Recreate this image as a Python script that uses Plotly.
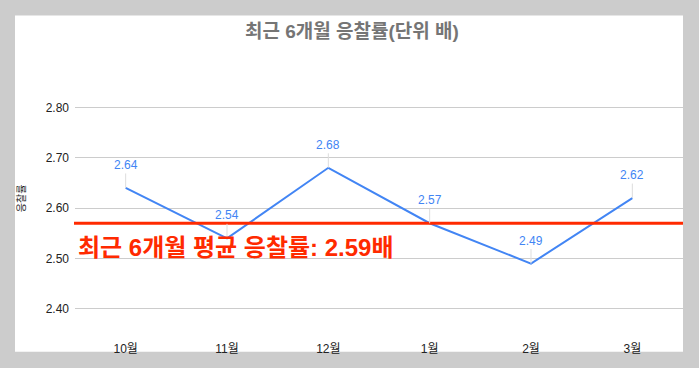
import plotly.graph_objects as go

months = ["10월", "11월", "12월", "1월", "2월", "3월"]
rates = [2.64, 2.54, 2.68, 2.57, 2.49, 2.62]
rate_labels = ["2.64", "2.54", "2.68", "2.57", "2.49", "2.62"]
y_ticks = [2.40, 2.50, 2.60, 2.70, 2.80]
y_tick_labels = ["2.40", "2.50", "2.60", "2.70", "2.80"]
avg_line_value = 2.57
avg_text = "최근 6개월 평균 응찰률: 2.59배"
title_text = "최근 6개월 응찰률(단위 배)"
y_title = "응찰률"

FONT = "Liberation Sans, Arial, Noto Sans CJK KR, sans-serif"
BLUE = "#4285f4"
RED = "#ff2a00"

W, H = 699, 368
ml, mr, mt, mb = 75, 16, 66.6, 48.9
pw = W - ml - mr
ph = H - mt - mb

fig = go.Figure()
fig.add_trace(go.Scatter(
    x=months, y=rates, mode="lines",
    line=dict(color=BLUE, width=2),
    hoverinfo="skip", showlegend=False,
))

annotations = []
for m, v, t in zip(months, rates, rate_labels):
    annotations.append(dict(
        x=m, y=v, xref="x", yref="y", text=t,
        showarrow=True, ax=0, ay=-23, arrowhead=0, arrowwidth=1,
        arrowcolor="#dddddd", standoff=0, startstandoff=0,
        font=dict(family=FONT, size=12, color=BLUE),
    ))

# y axis title
annotations.append(dict(
    x=(21 - ml) / pw, y=(H - mb - 198) / ph, xref="paper", yref="paper",
    text=y_title, showarrow=False, textangle=-90,
    font=dict(family=FONT, size=10, color="#222222"),
    xanchor="center", yanchor="middle",
))
# red average text
annotations.append(dict(
    x=(76 - ml) / pw, y=(H - mb - 247) / ph, xref="paper", yref="paper",
    text="<b>" + avg_text + "</b>", showarrow=False,
    font=dict(family=FONT, size=24, color=RED),
    xanchor="left", yanchor="middle",
))
# title
annotations.append(dict(
    x=(352 - ml) / pw, y=(H - mb - 31) / ph, xref="paper", yref="paper",
    text="<b>" + title_text + "</b>", showarrow=False,
    font=dict(family=FONT, size=19, color="#757575"),
    xanchor="center", yanchor="middle",
))

shapes = [
    dict(type="rect", xref="paper", yref="paper",
         x0=(15 - ml) / pw, x1=(683 - ml) / pw,
         y0=(H - mb - 352) / ph, y1=(H - mb - 15) / ph,
         fillcolor="white", line=dict(width=0), layer="below"),
    dict(type="line", xref="paper", yref="y",
         x0=(74 - ml) / pw, x1=(683 - ml) / pw,
         y0=avg_line_value, y1=avg_line_value,
         line=dict(color=RED, width=3), layer="above"),
]

fig.update_layout(
    width=W, height=H,
    margin=dict(l=ml, r=mr, t=mt, b=mb, pad=0),
    paper_bgcolor="#cccccc", plot_bgcolor="rgba(0,0,0,0)",
    annotations=annotations, shapes=shapes,
    xaxis=dict(
        type="category", range=[-0.5, len(months) - 0.5],
        showgrid=False, zeroline=False, showline=False,
        tickfont=dict(family=FONT, size=12, color="#222222"),
        ticklabelstandoff=21, fixedrange=True,
    ),
    yaxis=dict(
        range=[2.38, 2.88], tickvals=y_ticks, ticktext=y_tick_labels,
        showgrid=True, gridcolor="#cccccc", gridwidth=1,
        zeroline=False, showline=False,
        tickfont=dict(family=FONT, size=12, color="#222222"),
        ticklabelstandoff=5, fixedrange=True,
    ),
)

fig.write_html(
    "out.html",
    config={"displayModeBar": False},
    post_script="document.body.style.margin='0';document.body.style.background='#cccccc';",
)
